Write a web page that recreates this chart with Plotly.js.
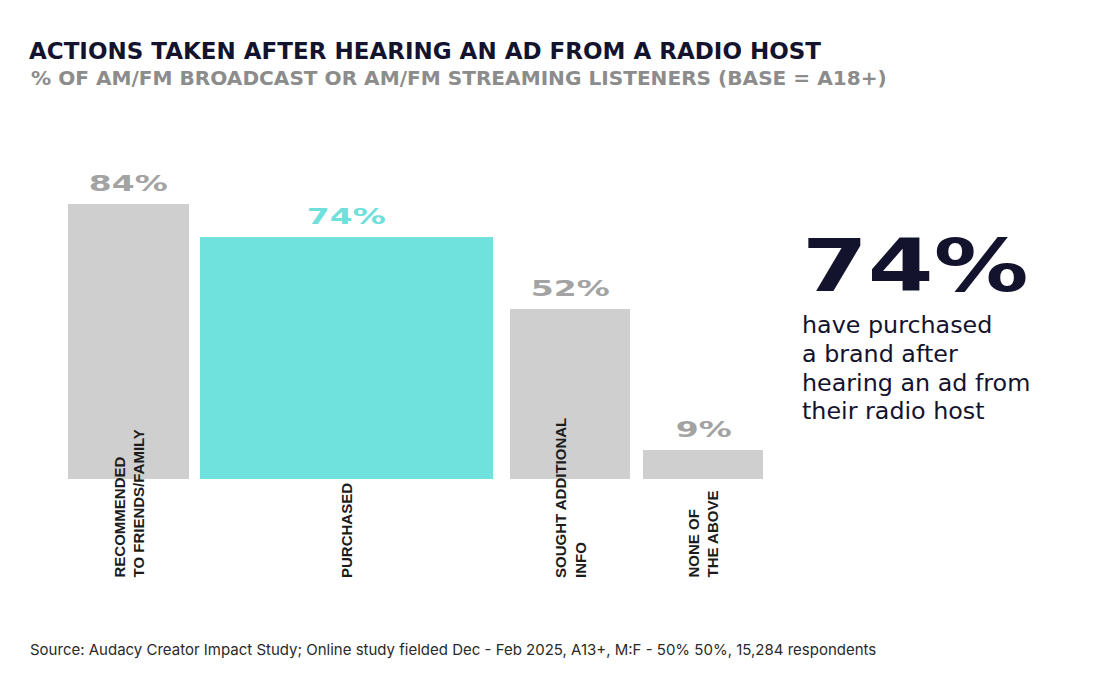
<!DOCTYPE html>
<html>
<head>
<meta charset="utf-8">
<script src="https://cdn.plot.ly/plotly-3.0.1.min.js"></script>
<style>
  html, body { margin: 0; padding: 0; background: #ffffff; }
  #chart { width: 1100px; height: 700px; }
</style>
</head>
<body>
<div id="chart"></div>
<script>
// ---- data ----
const categories = ["RECOMMENDED<br>TO FRIENDS/FAMILY", "PURCHASED", "SOUGHT ADDITIONAL<br>INFO", "NONE OF<br>THE ABOVE"];
const values = [84, 74, 52, 9];
const valueLabels = ["84%", "74%", "52%", "9%"];
const highlightIndex = 1;
const calloutValue = "74%";
const calloutLines = ["have purchased", "a brand after", "hearing an ad from", "their radio host"];
const titleText = "ACTIONS TAKEN AFTER HEARING AN AD FROM A RADIO HOST";
const subtitleText = "% OF AM/FM BROADCAST OR AM/FM STREAMING LISTENERS (BASE = A18+)";
const sourceText = "Source: Audacy Creator Impact Study; Online study fielded Dec - Feb 2025, A13+, M:F - 50% 50%, 15,284 respondents";

// ---- layout / style (pixel-based axes) ----
const W = 1100, H = 700;
const barCenters = [128.5, 346.5, 570, 703];
const barWidths = [121, 293, 120, 120];
const baselinePx = 479;      // px from top
const pxPerUnit = 3.27;
const yMin = -(H - baselinePx) / pxPerUnit;
const yMax = baselinePx / pxPerUnit;
const grey = "#cfcfcf", teal = "#6fe2de";
const navy = "#14132e";
const calloutSize = 23.8;
const calloutBaselines = [333.5, 362.2, 390.9, 419.6];
const bigCenterPx = 266;

const barColors = values.map((v, i) => i === highlightIndex ? teal : grey);
const labelColors = values.map((v, i) => i === highlightIndex ? "#6fe0dc" : "#a3a3a3");

const trace = {
  type: "bar",
  x: barCenters,
  y: values,
  width: barWidths,
  marker: { color: barColors, line: { width: 0 } },
  hoverinfo: "skip",
  showlegend: false
};

const py = p => 1 - p / H;   // paper y from pixel top
const px = p => p / W;

const annotations = [];
values.forEach((v, i) => {
  annotations.push({
    x: barCenters[i], y: v, xref: "x", yref: "y",
    text: valueLabels[i], showarrow: false,
    xanchor: "center", yanchor: "bottom", yshift: 6,
    font: { family: "DejaVu Sans", size: 22, color: labelColors[i], weight: 700 }
  });
  annotations.push({
    x: barCenters[i], y: py(580), xref: "x", yref: "paper",
    text: categories[i], showarrow: false, textangle: -90,
    xanchor: "center", yanchor: "bottom", align: "left",
    font: { family: "Liberation Sans", size: 15, color: "#1c1c1c", weight: 700 }
  });
});

annotations.push({
  x: px(800), y: py(bigCenterPx), xref: "paper", yref: "paper",
  text: calloutValue, showarrow: false, xanchor: "left", yanchor: "middle",
  font: { family: "DejaVu Sans", size: 52, color: navy, weight: 700 }
});
calloutLines.forEach((line, i) => {
  annotations.push({
    x: px(800), y: py(calloutBaselines[i] - 0.345 * calloutSize), xref: "paper", yref: "paper",
    text: line, showarrow: false, xanchor: "left", yanchor: "middle", align: "left",
    font: { family: "DejaVu Sans", size: calloutSize, color: navy, weight: 500 }
  });
});
annotations.push({
  x: px(29), y: py(78), xref: "paper", yref: "paper",
  text: subtitleText, showarrow: false, xanchor: "left", yanchor: "middle", align: "left",
  font: { family: "DejaVu Sans", size: 20.1, color: "#8c8c8c", weight: 700 }
});
annotations.push({
  x: px(28), y: py(649), xref: "paper", yref: "paper",
  text: sourceText, showarrow: false, xanchor: "left", yanchor: "middle", align: "left",
  font: { family: "Inter", size: 15, color: "#2a2a2a" }
});

const layout = {
  width: W, height: H,
  margin: { l: 0, r: 0, t: 0, b: 0 },
  paper_bgcolor: "#ffffff", plot_bgcolor: "#ffffff",
  title: {
    text: titleText,
    x: px(29), xref: "container", xanchor: "left",
    y: py(51), yref: "container", yanchor: "middle",
    font: { family: "DejaVu Sans", size: 23, color: navy, weight: 700 }
  },
  xaxis: { range: [0, W], visible: false, fixedrange: true },
  yaxis: { range: [yMin, yMax], visible: false, fixedrange: true },
  bargap: 0,
  annotations: annotations,
  showlegend: false
};

Plotly.newPlot("chart", [trace], layout, { displayModeBar: false, staticPlot: true }).then(() => {
  // widen the display-style numerals to mimic an extended typeface
  document.querySelectorAll("#chart .annotation-text").forEach(t => {
    const s = t.textContent.trim();
    if (/^\d+%$/.test(s)) {
      const big = parseFloat(t.style.fontSize || getComputedStyle(t).fontSize) > 40;
      t.style.transformBox = "fill-box";
      t.style.transformOrigin = big ? "left center" : "center center";
      t.style.transform = big ? "scale(1.82, 1.4)" : "scaleX(1.5)";
    }
  });
});
</script>
</body>
</html>
